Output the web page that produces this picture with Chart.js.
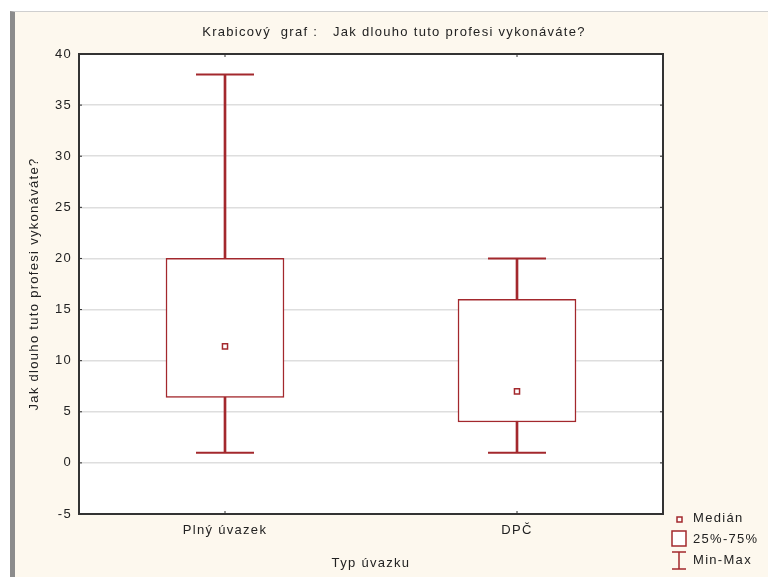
<!DOCTYPE html>
<html>
<head>
<meta charset="utf-8">
<script src="https://cdn.jsdelivr.net/npm/chart.js@4.4.1/dist/chart.umd.min.js"></script>
<style>
  body{margin:0;background:#fff;width:768px;height:577px;overflow:hidden;position:relative}
  #frame{position:absolute;left:10px;top:11px;width:753px;height:566px;border-left:5px solid #8c8c8c;border-top:1px solid #cfcfcf;background:#fdf8ee}
  #c{position:absolute;left:0;top:0}
</style>
</head>
<body>
<div id="frame"></div>
<canvas id="c" width="768" height="577"></canvas>
<script>
// box plot values
const categories = ['Plný úvazek', 'DPČ'];
const mins    = [1, 1];
const q1      = [6.4, 4];
const medians = [11.4, 7];
const q3      = [20, 16];
const maxs    = [38, 20];

const RED = '#a3282d';
const TXT = '#222';
const FONT = 'Liberation Sans, Arial, sans-serif';
const SPACING = '1.3px';

// white plot area + black frame with small inward ticks, title and legend
const framePlugin = {
  id:'frame',
  beforeDraw(chart){
    const {ctx, chartArea:a} = chart;
    ctx.letterSpacing = SPACING;
    ctx.save();
    ctx.fillStyle = '#fff';
    ctx.fillRect(a.left, a.top, a.right-a.left, a.bottom-a.top);
    ctx.fillStyle = TXT;
    ctx.font = '13px ' + FONT;
    ctx.textAlign = 'center';
    ctx.textBaseline = 'middle';
    ctx.fillText('Krabicový  graf :   Jak dlouho tuto profesi vykonáváte?', 394, 32);
    ctx.restore();
  },
  afterDatasetsDraw(chart){
    const {ctx, chartArea:a, scales:{x, y}} = chart;
    ctx.save();
    ctx.strokeStyle = '#333';
    ctx.lineWidth = 2;
    ctx.strokeRect(a.left, a.top, a.right-a.left, a.bottom-a.top);
    ctx.lineWidth = 1;
    ctx.beginPath();
    y.ticks.forEach(t=>{
      const py = y.getPixelForValue(t.value);
      ctx.moveTo(a.left, py); ctx.lineTo(a.left+3, py);
      ctx.moveTo(a.right, py); ctx.lineTo(a.right-3, py);
    });
    categories.forEach((c,i)=>{
      const px = x.getPixelForValue(i);
      ctx.moveTo(px, a.top); ctx.lineTo(px, a.top+3);
      ctx.moveTo(px, a.bottom); ctx.lineTo(px, a.bottom-3);
    });
    ctx.stroke();
    ctx.restore();
  },
  afterDraw(chart){
    // Statistica style legend, bottom right outside plot
    const {ctx, chartArea:a} = chart;
    const lx = a.right + 16, tx = a.right + 30;
    ctx.save();
    ctx.strokeStyle = RED;
    ctx.fillStyle = '#fff';
    ctx.lineWidth = 1.5;
    ctx.fillRect(lx-2, a.bottom+3, 5, 5);
    ctx.strokeRect(lx-2, a.bottom+3, 5, 5);
    ctx.fillRect(lx-7, a.bottom+17, 14, 15);
    ctx.strokeRect(lx-7, a.bottom+17, 14, 15);
    ctx.beginPath();
    ctx.moveTo(lx-7, a.bottom+38); ctx.lineTo(lx+7, a.bottom+38);
    ctx.moveTo(lx, a.bottom+38); ctx.lineTo(lx, a.bottom+55);
    ctx.moveTo(lx-7, a.bottom+55); ctx.lineTo(lx+7, a.bottom+55);
    ctx.stroke();
    ctx.fillStyle = TXT;
    ctx.font = '13px ' + FONT;
    ctx.textBaseline = 'middle';
    ctx.fillText('Medián', tx, a.bottom+4);
    ctx.fillText('25%-75%', tx, a.bottom+25);
    ctx.fillText('Min-Max', tx, a.bottom+46);
    ctx.restore();
  }
};

new Chart(document.getElementById('c'), {
  type:'bar',
  data:{
    labels:categories,
    datasets:[
      {type:'line', label:'Medián', data:medians, showLine:false, order:0,
       pointStyle:'rect', pointRadius:3.6, pointBorderWidth:1.5,
       pointBorderColor:RED, pointBackgroundColor:'#fff'},
      {label:'25%-75%', data:q1.map((v,i)=>[v, q3[i]]), order:1, grouped:false,
       barThickness:118, backgroundColor:'#fff', borderColor:RED, borderWidth:1.5, borderSkipped:false},
      {label:'whisker', data:mins.map((v,i)=>[v, maxs[i]]), order:2, grouped:false,
       barThickness:2, backgroundColor:RED, borderWidth:0},
      {type:'line', label:'max', data:maxs, showLine:false, order:3,
       pointStyle:'line', pointRadius:29, pointBorderWidth:2, pointBorderColor:RED},
      {type:'line', label:'min', data:mins, showLine:false, order:3,
       pointStyle:'line', pointRadius:29, pointBorderWidth:2, pointBorderColor:RED}
    ]
  },
  options:{
    responsive:false,
    animation:false,
    events:[],
    layout:{padding:{top:54, left:0, right:105, bottom:0}},
    plugins:{
      legend:{display:false},
      tooltip:{enabled:false},
      title:{display:false}
    },
    scales:{
      x:{
        offset:true,
        grid:{display:false, drawTicks:false},
        border:{display:false},
        ticks:{color:TXT, font:{family:FONT, size:13}, padding:9},
        title:{display:true, text:'Typ úvazku', color:TXT, font:{family:FONT, size:13}, padding:{top:4, bottom:6}},
        afterFit(s){ s.height = 63; }
      },
      y:{
        min:-5, max:40,
        ticks:{stepSize:5, color:TXT, font:{family:FONT, size:13}, padding:7},
        grid:{color:'#dedede', lineWidth:1.5, drawTicks:false},
        border:{display:false},
        title:{display:true, text:'Jak dlouho tuto profesi vykonáváte?', color:TXT, font:{family:FONT, size:13}, padding:{top:27, bottom:0}},
        afterFit(s){ s.width = 79; }
      }
    }
  },
  plugins:[framePlugin]
});
</script>
</body>
</html>
